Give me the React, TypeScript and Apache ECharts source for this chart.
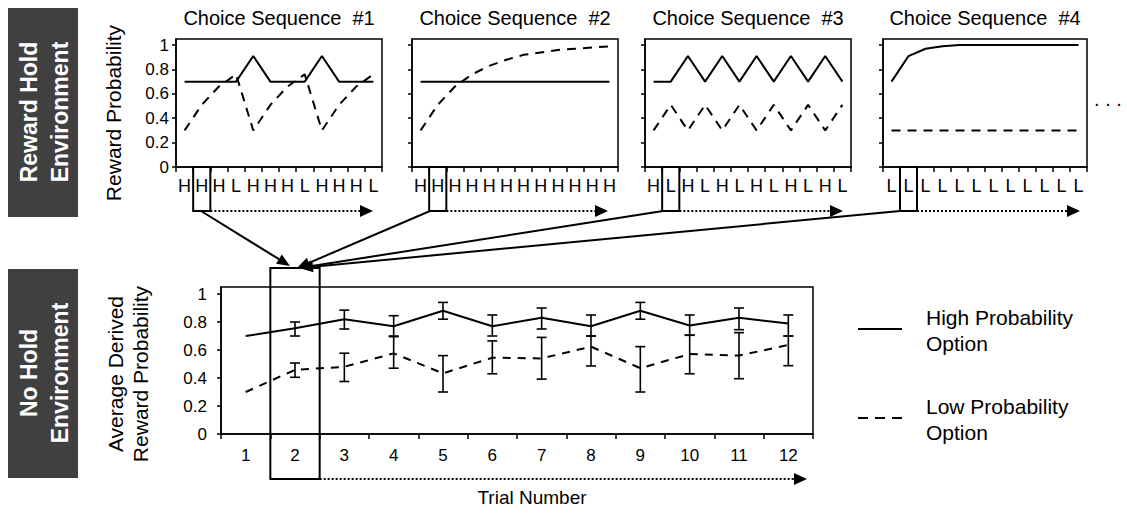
import React, { useEffect, useRef } from "react";
import * as echarts from "echarts";

// ---------- data ----------
const seqTitles = ["Choice Sequence  #1", "Choice Sequence  #2", "Choice Sequence  #3", "Choice Sequence  #4"];
const seq1Choices = ["H", "H", "H", "L", "H", "H", "H", "L", "H", "H", "H", "L"];
const seq2Choices = ["H", "H", "H", "H", "H", "H", "H", "H", "H", "H", "H", "H"];
const seq3Choices = ["H", "L", "H", "L", "H", "L", "H", "L", "H", "L", "H", "L"];
const seq4Choices = ["L", "L", "L", "L", "L", "L", "L", "L", "L", "L", "L", "L"];

const seq1High = [0.7, 0.7, 0.7, 0.7, 0.91, 0.7, 0.7, 0.7, 0.91, 0.7, 0.7, 0.7];
const seq1Low = [0.3, 0.51, 0.66, 0.76, 0.3, 0.51, 0.66, 0.76, 0.3, 0.51, 0.66, 0.76];
const seq2High = [0.7, 0.7, 0.7, 0.7, 0.7, 0.7, 0.7, 0.7, 0.7, 0.7, 0.7, 0.7];
const seq2Low = [0.3, 0.51, 0.66, 0.76, 0.83, 0.88, 0.92, 0.94, 0.96, 0.97, 0.98, 0.99];
const seq3High = [0.7, 0.7, 0.91, 0.7, 0.91, 0.7, 0.91, 0.7, 0.91, 0.7, 0.91, 0.7];
const seq3Low = [0.3, 0.51, 0.3, 0.51, 0.3, 0.51, 0.3, 0.51, 0.3, 0.51, 0.3, 0.51];
const seq4High = [0.7, 0.91, 0.97, 0.99, 1, 1, 1, 1, 1, 1, 1, 1];
const seq4Low = [0.3, 0.3, 0.3, 0.3, 0.3, 0.3, 0.3, 0.3, 0.3, 0.3, 0.3, 0.3];

const trialLabels = ["1", "2", "3", "4", "5", "6", "7", "8", "9", "10", "11", "12"];
const highMean = [0.7, 0.755, 0.82, 0.77, 0.88, 0.77, 0.83, 0.77, 0.88, 0.775, 0.83, 0.79];
const highUpper = [null, 0.8, 0.885, 0.845, 0.94, 0.85, 0.9, 0.85, 0.94, 0.85, 0.9, 0.85];
const highLower = [null, 0.7, 0.75, 0.7, 0.82, 0.7, 0.75, 0.7, 0.82, 0.705, 0.745, 0.7];
const lowMean = [0.3, 0.458, 0.48, 0.576, 0.433, 0.545, 0.54, 0.624, 0.47, 0.571, 0.56, 0.636];
const lowUpper = [null, 0.507, 0.577, 0.695, 0.56, 0.665, 0.69, 0.7, 0.624, 0.707, 0.724, 0.7];
const lowLower = [null, 0.405, 0.375, 0.47, 0.3, 0.43, 0.392, 0.486, 0.3, 0.43, 0.395, 0.488];

const yTickValues = [0, 0.2, 0.4, 0.6, 0.8, 1];

// ---------- layout ----------
const FONT = '"Liberation Sans", Arial, Helvetica, sans-serif';
const topPanels = [
  { left: 176, width: 206 },
  { left: 412, width: 206 },
  { left: 645, width: 206 },
  { left: 883, width: 204 },
];
const TOP_Y = 39;
const TOP_H = 128;
const BOT = { left: 221, top: 287, width: 592, height: 147 };

function arrowHead(x1: number, y1: number, x2: number, y2: number, len = 13, half = 5.5) {
  const dx = x2 - x1;
  const dy = y2 - y1;
  const d = Math.hypot(dx, dy);
  const ux = dx / d;
  const uy = dy / d;
  const bx = x2 - ux * len;
  const by = y2 - uy * len;
  return [
    [x2, y2],
    [bx - uy * half, by + ux * half],
    [bx + uy * half, by - ux * half],
  ];
}

export default function App() {
  const ref = useRef<HTMLDivElement>(null);

  useEffect(() => {
    if (!ref.current) return;
    const chart = echarts.init(ref.current, null, { renderer: "svg" });

    const choices = [seq1Choices, seq2Choices, seq3Choices, seq4Choices];
    const highs = [seq1High, seq2High, seq3High, seq4High];
    const lows = [seq1Low, seq2Low, seq3Low, seq4Low];

    const grids: any[] = topPanels.map((p) => ({
      left: p.left,
      top: TOP_Y,
      width: p.width,
      height: TOP_H,
      show: true,
      borderColor: "#000",
      borderWidth: 1.5,
    }));
    grids.push({
      left: BOT.left,
      top: BOT.top,
      width: BOT.width,
      height: BOT.height,
      show: true,
      borderColor: "#000",
      borderWidth: 1.5,
    });

    const labelFmt = (v: number) => (yTickValues.some((t) => Math.abs(t - v) < 1e-6) ? String(+v.toFixed(1)) : "");

    const xAxes: any[] = choices.map((c, i) => ({
      type: "category",
      gridIndex: i,
      data: c,
      boundaryGap: true,
      axisLine: { lineStyle: { color: "#000", width: 1.5 } },
      axisTick: { show: true, length: 5, lineStyle: { color: "#000", width: 1.5 } },
      axisLabel: { color: "#000", fontSize: 18, fontFamily: FONT, margin: 10, interval: 0 },
      splitLine: { show: false },
    }));
    xAxes.push({
      type: "category",
      gridIndex: 4,
      data: trialLabels,
      boundaryGap: true,
      axisLine: { lineStyle: { color: "#000", width: 1.5 } },
      axisTick: { show: true, length: 5, lineStyle: { color: "#000", width: 1.5 } },
      axisLabel: { color: "#000", fontSize: 17, fontFamily: FONT, margin: 13, interval: 0 },
      splitLine: { show: false },
    });

    const yAxes: any[] = [0, 1, 2, 3, 4].map((i) => ({
      type: "value",
      gridIndex: i,
      min: 0,
      max: 1.05,
      interval: 0.2,
      axisLine: { show: true, lineStyle: { color: "#000", width: 1.5 } },
      axisTick: { show: true, length: 4, customValues: yTickValues, lineStyle: { color: "#000", width: 1.5 } },
      axisLabel: {
        show: i === 0 || i === 4,
        customValues: yTickValues,
        formatter: labelFmt,
        color: "#000",
        fontSize: 17,
        fontFamily: FONT,
        margin: i === 4 ? 14 : 7,
      },
      splitLine: { show: false },
    }));

    const series: any[] = [];
    for (let i = 0; i < 4; i++) {
      series.push({
        type: "line",
        name: "High Probability Option",
        xAxisIndex: i,
        yAxisIndex: i,
        data: highs[i],
        symbol: "none",
        lineStyle: { color: "#000", width: 2 },
      });
      series.push({
        type: "line",
        name: "Low Probability Option",
        xAxisIndex: i,
        yAxisIndex: i,
        data: lows[i],
        symbol: "none",
        lineStyle: { color: "#000", width: 2, type: [9, 7] },
      });
    }
    series.push({
      type: "line",
      name: "High Probability Option",
      xAxisIndex: 4,
      yAxisIndex: 4,
      data: highMean,
      symbol: "none",
      lineStyle: { color: "#000", width: 2 },
    });
    series.push({
      type: "line",
      name: "Low Probability Option",
      xAxisIndex: 4,
      yAxisIndex: 4,
      data: lowMean,
      symbol: "none",
      lineStyle: { color: "#000", width: 2, type: [8, 7] },
    });

    const errRender = (_p: any, api: any) => {
      const x = api.value(0);
      const top = api.coord([x, api.value(1)]);
      const bot = api.coord([x, api.value(2)]);
      const cap = 5;
      const st = { stroke: "#000", lineWidth: 1.6 };
      return {
        type: "group",
        children: [
          { type: "line", shape: { x1: top[0], y1: top[1], x2: bot[0], y2: bot[1] }, style: st },
          { type: "line", shape: { x1: top[0] - cap, y1: top[1], x2: top[0] + cap, y2: top[1] }, style: st },
          { type: "line", shape: { x1: bot[0] - cap, y1: bot[1], x2: bot[0] + cap, y2: bot[1] }, style: st },
        ],
      };
    };
    const errData = (up: (number | null)[], lo: (number | null)[]) =>
      up.map((u, i) => (u == null ? null : [i, u, lo[i]])).filter((d) => d != null);
    series.push({
      type: "custom",
      xAxisIndex: 4,
      yAxisIndex: 4,
      data: errData(highUpper, highLower),
      renderItem: errRender,
      encode: { x: 0, y: [1, 2] },
      silent: true,
    });
    series.push({
      type: "custom",
      xAxisIndex: 4,
      yAxisIndex: 4,
      data: errData(lowUpper, lowLower),
      renderItem: errRender,
      encode: { x: 0, y: [1, 2] },
      silent: true,
    });

    // ---------- graphic decorations ----------
    const g: any[] = [];
    const black = { stroke: "#000", lineWidth: 2, fill: "none" };

    // side boxes
    g.push({ type: "rect", shape: { x: 8, y: 8, width: 70, height: 209 }, style: { fill: "#404040" } });
    g.push({
      type: "text",
      x: 44,
      y: 112,
      rotation: Math.PI / 2,
      style: {
        text: "Reward Hold\nEnvironment",
        fill: "#fff",
        font: `bold 23px ${FONT}`,
        align: "center",
        verticalAlign: "middle",
        lineHeight: 31,
      },
    });
    g.push({ type: "rect", shape: { x: 8, y: 269, width: 70, height: 209 }, style: { fill: "#404040" } });
    g.push({
      type: "text",
      x: 44,
      y: 373,
      rotation: Math.PI / 2,
      style: {
        text: "No Hold\nEnvironment",
        fill: "#fff",
        font: `bold 23px ${FONT}`,
        align: "center",
        verticalAlign: "middle",
        lineHeight: 31,
      },
    });

    // titles
    topPanels.forEach((p, i) => {
      g.push({
        type: "text",
        x: p.left + p.width / 2,
        y: 18,
        style: { text: seqTitles[i], fill: "#000", font: `20px ${FONT}`, align: "center", verticalAlign: "middle" },
      });
    });

    // axis names
    g.push({
      type: "text",
      x: 113,
      y: 113,
      rotation: Math.PI / 2,
      style: { text: "Reward Probability", fill: "#000", font: `21px ${FONT}`, align: "center", verticalAlign: "middle" },
    });
    g.push({
      type: "text",
      x: 128,
      y: 374,
      rotation: Math.PI / 2,
      style: {
        text: "Average Derived\nReward Probability",
        fill: "#000",
        font: `21px ${FONT}`,
        align: "center",
        verticalAlign: "middle",
        lineHeight: 25,
      },
    });
    g.push({
      type: "text",
      x: 532,
      y: 497,
      style: { text: "Trial Number", fill: "#000", font: `19px ${FONT}`, align: "center", verticalAlign: "middle" },
    });
    g.push({
      type: "text",
      x: 1108,
      y: 99,
      style: { text: ". . .", fill: "#000", font: `20px ${FONT}`, align: "center", verticalAlign: "middle" },
    });

    // rectangles + dotted arrows in top panels
    const tipX = [373, 608, 843, 1080];
    topPanels.forEach((p, i) => {
      const cw = p.width / 12;
      const rx = p.left + cw;
      g.push({ type: "rect", shape: { x: rx, y: TOP_Y + TOP_H, width: cw, height: 44 }, style: black });
      const ay = TOP_Y + TOP_H + 44;
      g.push({
        type: "line",
        shape: { x1: rx + cw, y1: ay, x2: tipX[i] - 10, y2: ay },
        style: { stroke: "#000", lineWidth: 2, lineDash: [2, 2] },
      });
      g.push({
        type: "polygon",
        shape: { points: [[tipX[i], ay], [tipX[i] - 13, ay - 6], [tipX[i] - 13, ay + 6]] },
        style: { fill: "#000" },
      });
    });

    // bottom highlight rectangle + dotted arrow
    const bcw = BOT.width / 12;
    const brx = BOT.left + bcw;
    g.push({ type: "rect", shape: { x: brx, y: 268, width: bcw, height: 211 }, style: black });
    g.push({
      type: "line",
      shape: { x1: brx + bcw, y1: 479, x2: 797, y2: 479 },
      style: { stroke: "#000", lineWidth: 2, lineDash: [2, 2] },
    });
    g.push({
      type: "polygon",
      shape: { points: [[807, 479], [794, 473], [794, 485]] },
      style: { fill: "#000" },
    });

    // converging arrows
    const conv = [
      [201, 211, 290, 266],
      [430, 211, 297, 268],
      [663, 211, 299, 268],
      [900, 211, 300, 268],
    ];
    conv.forEach(([x1, y1, x2, y2]) => {
      const pts = arrowHead(x1, y1, x2, y2);
      g.push({
        type: "line",
        shape: { x1, y1, x2: (pts[1][0] + pts[2][0]) / 2, y2: (pts[1][1] + pts[2][1]) / 2 },
        style: { stroke: "#000", lineWidth: 2 },
      });
      g.push({ type: "polygon", shape: { points: pts }, style: { fill: "#000" } });
    });

    // legend
    g.push({ type: "line", shape: { x1: 858, y1: 329, x2: 902, y2: 329 }, style: { stroke: "#000", lineWidth: 2 } });
    g.push({
      type: "line",
      shape: { x1: 858, y1: 418, x2: 902, y2: 418 },
      style: { stroke: "#000", lineWidth: 2, lineDash: [10, 7] },
    });
    g.push({
      type: "text",
      x: 926,
      y: 330,
      style: {
        text: "High Probability\nOption",
        fill: "#000",
        font: `21px ${FONT}`,
        align: "left",
        verticalAlign: "middle",
        lineHeight: 26,
      },
    });
    g.push({
      type: "text",
      x: 926,
      y: 419,
      style: {
        text: "Low Probability\nOption",
        fill: "#000",
        font: `21px ${FONT}`,
        align: "left",
        verticalAlign: "middle",
        lineHeight: 26,
      },
    });

    chart.setOption({
      animation: false,
      backgroundColor: "#fff",
      textStyle: { fontFamily: FONT },
      grid: grids,
      xAxis: xAxes,
      yAxis: yAxes,
      series,
      graphic: g,
    });

    return () => chart.dispose();
  }, []);

  return (
    <div
      ref={ref}
      style={{ position: "fixed", left: 0, top: 0, width: 1127, height: 514, background: "#fff" }}
    />
  );
}
